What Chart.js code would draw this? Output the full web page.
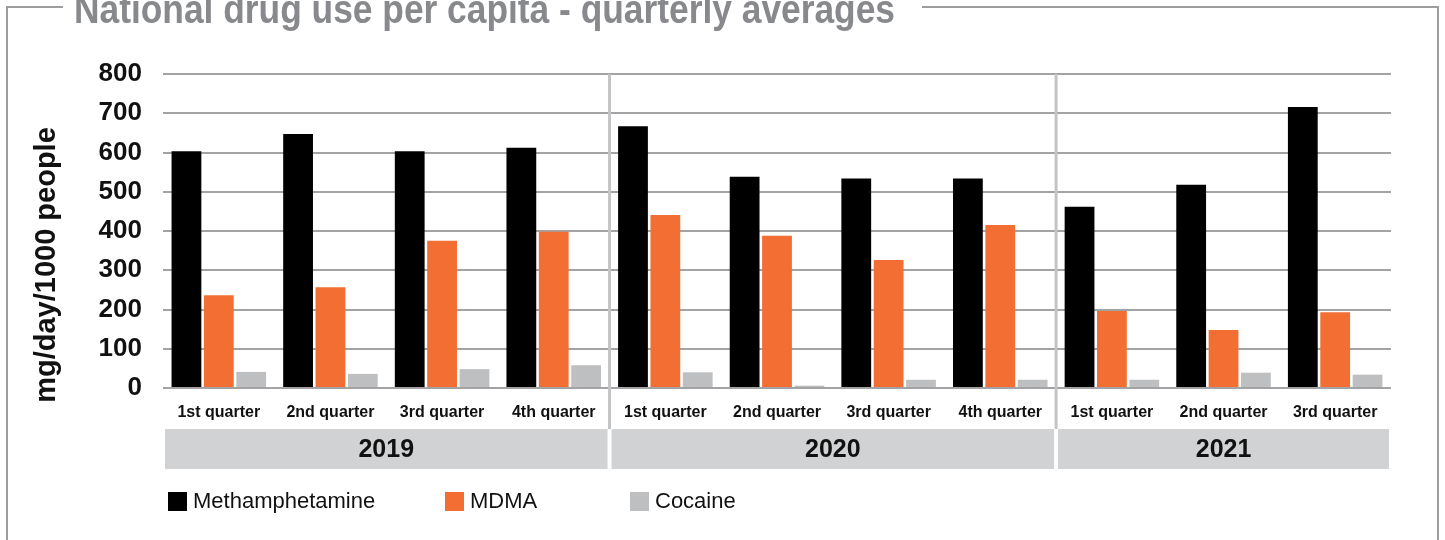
<!DOCTYPE html>
<html>
<head>
<meta charset="utf-8">
<script src="https://cdn.jsdelivr.net/npm/chart.js@4.4.1/dist/chart.umd.min.js"></script>
<style>
  html, body { margin: 0; padding: 0; background: #fff; }
  canvas { display: block; }
</style>
</head>
<body>
<canvas id="chart" width="1445" height="540"></canvas>
<script>
const quarters = ['1st quarter', '2nd quarter', '3rd quarter', '4th quarter',
                  '1st quarter', '2nd quarter', '3rd quarter', '4th quarter',
                  '1st quarter', '2nd quarter', '3rd quarter'];
const years = ['2019', '2020', '2021'];
const quartersPerYear = [4, 4, 3];

const methamphetamine = [603, 647, 603, 612, 667, 538, 534, 534, 462, 518, 716];
const mdma            = [236, 257, 375, 398, 441, 388, 326, 415, 196, 148, 193];
const cocaine         = [41, 36, 48, 58, 40, 6, 21, 21, 21, 39, 34];

const yTicks = [0, 100, 200, 300, 400, 500, 600, 700, 800];

const chartTitle = 'National drug use per capita - quarterly averages';
const yAxisTitle = 'mg/day/1000 people';

const FONT = '"Liberation Sans", Arial, sans-serif';
const NARROW = '"Liberation Sans Narrow", "Liberation Sans", Arial, sans-serif';

// frame, title, year bands, separators, legend, y title
const decor = {
    id: 'decor',
    beforeDraw(chart) {
        const ctx = chart.ctx;
        ctx.save();
        ctx.font = 'bold 40px ' + NARROW;
        const tx = 74;
        const want = 821;
        const tw = ctx.measureText(chartTitle).width;
        ctx.strokeStyle = '#9d9d9f';
        ctx.lineWidth = 2;
        ctx.beginPath();
        ctx.moveTo(tx - 11, 7);
        ctx.lineTo(7, 7);
        ctx.lineTo(7, 545);
        ctx.moveTo(tx + want + 27, 7);
        ctx.lineTo(1438, 7);
        ctx.lineTo(1438, 545);
        ctx.stroke();
        ctx.fillStyle = '#88898c';
        ctx.textBaseline = 'alphabetic';
        ctx.translate(tx, 23);
        ctx.scale(want / tw, 1);
        ctx.fillText(chartTitle, 0, 0);
        ctx.restore();
    },
    beforeDatasetsDraw(chart) {
        const ctx = chart.ctx;
        const x = chart.scales.x;
        const area = chart.chartArea;
        const half = (x.getPixelForValue(1) - x.getPixelForValue(0)) / 2;
        ctx.save();
        ctx.strokeStyle = '#c3c4c6';
        ctx.lineWidth = 3;
        let idx = 0;
        quartersPerYear.forEach((n, i) => {
            idx += n;
            if (i < quartersPerYear.length - 1) {
                const px = x.getPixelForValue(idx) - half;
                ctx.beginPath();
                ctx.moveTo(px, area.top);
                ctx.lineTo(px, area.bottom + 41);
                ctx.stroke();
            }
        });
        ctx.restore();
    },
    afterDraw(chart) {
        const ctx = chart.ctx;
        const x = chart.scales.x;
        const area = chart.chartArea;
        const half = (x.getPixelForValue(1) - x.getPixelForValue(0)) / 2;
        ctx.save();

        // year bands
        let idx = 0;
        quartersPerYear.forEach((n, i) => {
            const left = x.getPixelForValue(idx) - half + 2;
            const right = x.getPixelForValue(idx + n - 1) + half - 2;
            ctx.fillStyle = '#d1d2d4';
            ctx.fillRect(left, area.bottom + 41, right - left, 40);
            ctx.fillStyle = '#111';
            ctx.font = 'bold 25px ' + FONT;
            ctx.textAlign = 'center';
            ctx.textBaseline = 'middle';
            ctx.fillText(years[i], (left + right) / 2, area.bottom + 62);
            idx += n;
        });

        // legend
        const legendX = [168, 445, 630];
        ctx.font = '22px ' + FONT;
        ctx.textAlign = 'left';
        ctx.textBaseline = 'middle';
        chart.data.datasets.forEach((ds, i) => {
            ctx.fillStyle = ds.backgroundColor;
            ctx.fillRect(legendX[i], 492, 19, 19);
            ctx.fillStyle = '#111';
            ctx.fillText(ds.label, legendX[i] + 25, 502);
        });

        // y axis title
        ctx.translate(47, 265);
        ctx.rotate(-Math.PI / 2);
        ctx.font = 'bold 29px ' + FONT;
        ctx.textAlign = 'center';
        ctx.fillStyle = '#111';
        ctx.fillText(yAxisTitle, 0, 0);
        ctx.restore();
    }
};

new Chart(document.getElementById('chart'), {
    type: 'bar',
    data: {
        labels: quarters,
        datasets: [
            { label: 'Methamphetamine', data: methamphetamine, backgroundColor: '#000000' },
            { label: 'MDMA',            data: mdma,            backgroundColor: '#f26e33' },
            { label: 'Cocaine',         data: cocaine,         backgroundColor: '#bebfc1' }
        ]
    },
    options: {
        responsive: false,
        animation: false,
        events: [],
        categoryPercentage: 0.87,
        barPercentage: 0.92,
        layout: { padding: { top: 74, right: 54, bottom: 112, left: 0 } },
        plugins: {
            legend: { display: false },
            title: { display: false },
            tooltip: { enabled: false }
        },
        scales: {
            x: {
                grid: { display: false, drawTicks: false },
                border: { display: false },
                ticks: {
                    color: '#111',
                    font: { family: FONT, size: 16, weight: 'bold' },
                    padding: 15,
                    maxRotation: 0,
                    autoSkip: false
                },
                afterFit: s => { s.height = 40; }
            },
            y: {
                min: 0,
                max: 800,
                afterBuildTicks: s => { s.ticks = yTicks.map(v => ({ value: v })); },
                grid: { color: '#a3a3a5', lineWidth: 2, drawTicks: false },
                border: { display: false },
                ticks: {
                    color: '#111',
                    font: { family: FONT, size: 26, weight: 'bold' },
                    padding: 21
                },
                afterFit: s => { s.width = 163; }
            }
        }
    },
    plugins: [decor]
});
</script>
</body>
</html>
